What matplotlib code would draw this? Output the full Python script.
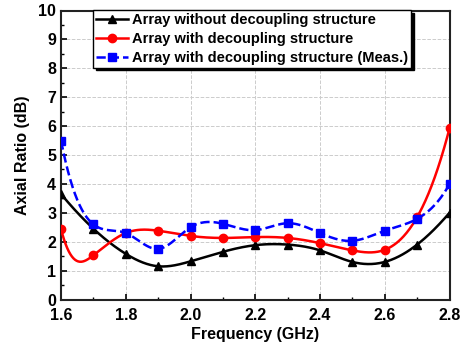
import numpy as np
import matplotlib
matplotlib.use("Agg")
import matplotlib.pyplot as plt
from matplotlib.ticker import MultipleLocator

freq = [1.6, 1.7, 1.8, 1.9, 2.0, 2.1, 2.2, 2.3, 2.4, 2.5, 2.6, 2.7, 2.8]
ar_without = [3.65, 2.45, 1.58, 1.15, 1.32, 1.65, 1.88, 1.9, 1.7, 1.3, 1.3, 1.9, 3.0]
ar_with = [2.44, 1.53, 2.3, 2.38, 2.2, 2.13, 2.16, 2.13, 1.95, 1.7, 1.72, 2.85, 5.92]
ar_meas = [5.5, 2.6, 2.3, 1.75, 2.5, 2.62, 2.4, 2.64, 2.3, 2.03, 2.38, 2.79, 3.99]
# extra point read from the red (simulated) curve's dip, drawn without a marker
dip_freq = 1.665
dip_value = 1.31

labels = ["Array without decoupling structure",
          "Array with decoupling structure",
          "Array with decoupling structure (Meas.)"]


def spline(x, y, n=500):
    """Not-a-knot cubic spline for drawing a smooth line through the points."""
    x = np.asarray(x, float); y = np.asarray(y, float)
    k = len(x); h = np.diff(x)
    A = np.zeros((k, k)); b = np.zeros(k)
    A[0, 0] = h[1]; A[0, 1] = -(h[0] + h[1]); A[0, 2] = h[0]
    A[-1, -3] = h[-1]; A[-1, -2] = -(h[-2] + h[-1]); A[-1, -1] = h[-2]
    for i in range(1, k - 1):
        A[i, i - 1] = h[i - 1]; A[i, i] = 2 * (h[i - 1] + h[i]); A[i, i + 1] = h[i]
        b[i] = 3 * ((y[i + 1] - y[i]) / h[i] - (y[i] - y[i - 1]) / h[i - 1])
    c = np.linalg.solve(A, b)
    xs = np.linspace(x[0], x[-1], n)
    idx = np.clip(np.searchsorted(x, xs) - 1, 0, k - 2)
    bb = (y[1:] - y[:-1]) / h - h * (2 * c[:-1] + c[1:]) / 3
    d = (c[1:] - c[:-1]) / (3 * h)
    t = xs - x[idx]
    ys = y[idx] + bb[idx] * t + c[idx] * t ** 2 + d[idx] * t ** 3
    return xs, ys


plt.rcParams['font.family'] = ['Liberation Sans', 'DejaVu Sans']
plt.rcParams['font.weight'] = 'bold'

fig = plt.figure(figsize=(4.66, 3.45), dpi=100)
ax = fig.add_axes([61 / 466, 1 - 299.5 / 345, (449.5 - 61) / 466, (299.5 - 10.5) / 345])

red_line_x = freq[:1] + [dip_freq] + freq[1:]
red_line_y = ar_with[:1] + [dip_value] + ar_with[1:]

series = [(freq, ar_without, ar_without, 'black', '^', '-'),
          (red_line_x, red_line_y, ar_with, 'red', 'o', '-'),
          (freq, ar_meas, ar_meas, 'blue', 's', '--')]
handles = []
for (lx, ly, vals, col, mk, ls), lab in zip(series, labels):
    xs, ys = spline(lx, ly)
    ax.plot(xs, ys, color=col, ls=ls, lw=1.8, zorder=3)
    ax.plot(freq, vals, ls='none', marker=mk, color=col, ms=6, zorder=4)
    h, = ax.plot([], [], color=col, ls=ls, lw=1.8, marker=mk, ms=6)
    handles.append(h)

ax.set_xlim(1.6, 2.8)
ax.set_ylim(0, 10)
ax.xaxis.set_major_locator(MultipleLocator(0.2))
ax.xaxis.set_minor_locator(MultipleLocator(0.1))
ax.yaxis.set_major_locator(MultipleLocator(1))
ax.yaxis.set_minor_locator(MultipleLocator(0.5))
ax.xaxis.set_major_formatter(matplotlib.ticker.FormatStrFormatter('%.1f'))
ax.tick_params(which='both', direction='in', top=False, right=False)
ax.tick_params(which='major', length=4, width=1.2, labelsize=11.5)
ax.tick_params(axis='x', which='major', pad=6)
ax.tick_params(which='minor', length=2.5, width=1.0)
ax.grid(True, which='major', color='#cccccc', ls='--', lw=0.7)
for s in ax.spines.values():
    s.set_linewidth(1.5)
    s.set_color('#222222')

ax.set_xlabel('Frequency (GHz)', fontsize=11.5, fontweight='bold', labelpad=3)
ax.set_ylabel('Axial Ratio (dB)', fontsize=11.5, fontweight='bold', labelpad=6)

leg = ax.legend(handles, labels, loc='upper left', bbox_to_anchor=(0.082, 1.0),
                fontsize=10.5, frameon=True, fancybox=False,
                shadow={'facecolor': 'black', 'edgecolor': 'black', 'alpha': 1.0},
                borderpad=0.2, labelspacing=0.32, handlelength=2.2,
                handletextpad=0.3, borderaxespad=0.0, framealpha=1.0)
leg.get_frame().set_edgecolor('black')
leg.get_frame().set_linewidth(1.0)
for t in leg.get_texts():
    t.set_fontweight('bold')

fig.savefig('out.png', dpi=100)
